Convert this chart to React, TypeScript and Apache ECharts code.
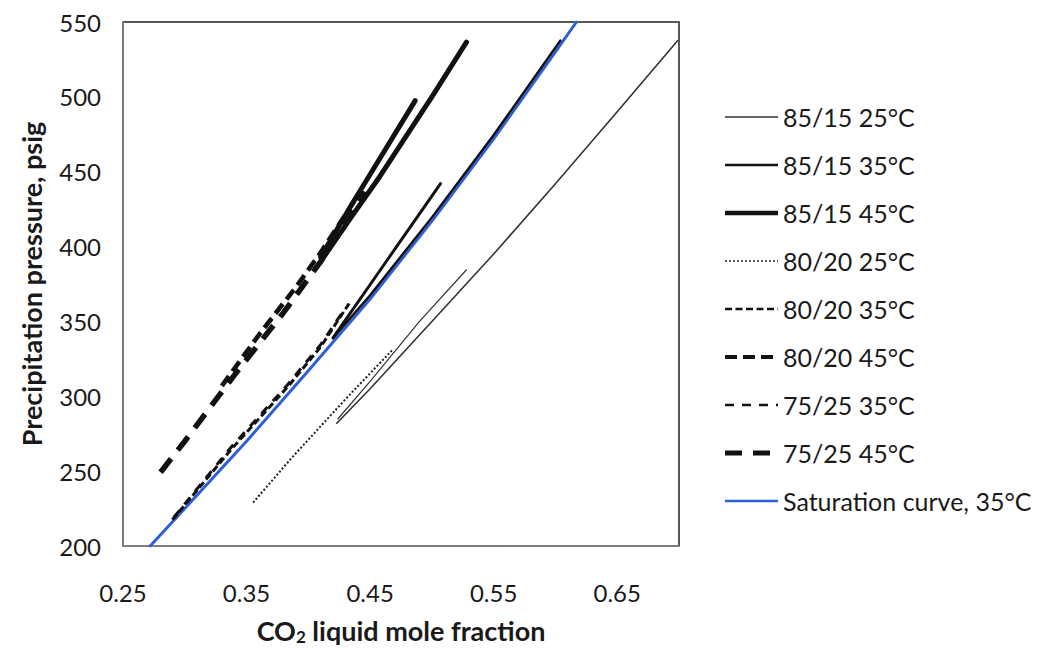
import React, { useEffect, useRef } from "react";
import * as echarts from "echarts";

// ---- Data (x = CO2 liquid mole fraction, y = precipitation pressure, psig) ----
const seriesNames = [
  "85/15 25°C",
  "85/15 35°C",
  "85/15 45°C",
  "80/20 25°C",
  "80/20 35°C",
  "80/20 45°C",
  "75/25 35°C",
  "75/25 45°C",
  "Saturation curve, 35°C",
];

const xMin = 0.25;
const xMax = 0.7;
const yMin = 200;
const yMax = 550;
const yStep = 50;
const xStep = 0.05;

const saturation35: number[][] = [
  [0.272, 200], [0.3, 225], [0.35, 270], [0.4, 317], [0.45, 365],
  [0.5, 417], [0.55, 472], [0.6, 530], [0.617, 550],
];

const p8515_25a: number[][] = [[0.424, 285], [0.45, 310], [0.49, 350], [0.528, 384.5]];
const p8515_25b: number[][] = [
  [0.423, 282], [0.45, 305], [0.5, 350], [0.55, 395], [0.6, 442], [0.65, 490], [0.699, 537.6],
];

const p8515_35a: number[][] = [[0.42, 339], [0.4636, 390.7], [0.507, 442]];
const p8515_35b: number[][] = [[0.42, 339], [0.45, 367.5], [0.5, 419.5], [0.55, 474.5], [0.604, 537.6]];

const p8515_45a: number[][] = [[0.41, 393], [0.435, 428], [0.458, 459], [0.4865, 497.5]];
const p8515_45b: number[][] = [[0.41, 390], [0.435, 420], [0.458, 447], [0.5, 500], [0.528, 536.5]];

const p8020_25: number[][] = [[0.3553, 229], [0.387, 259.3], [0.43, 298], [0.4676, 330.6]];
const p8020_35: number[][] = [[0.29, 217.5], [0.337, 264], [0.383, 306], [0.41, 333], [0.433, 362]];
const p8020_45: number[][] = [[0.33, 307], [0.36, 341], [0.39, 373], [0.41, 396], [0.44, 434]];
const p7525_35: number[][] = [[0.291, 219], [0.337, 265.5], [0.383, 307.5], [0.41, 334.5], [0.43, 359]];
const p7525_45: number[][] = [[0.2804, 249.3], [0.3, 270], [0.34, 314], [0.38, 356], [0.41, 390], [0.445, 437]];

// line styles (legend + series)
const styleColors = ["#333", "#111", "#111", "#222", "#111", "#111", "#111", "#111", "#2f5fd6"];
const styleWidths = [1.3, 2.6, 4.6, 1.6, 2.6, 4.2, 2.6, 5, 2.6];
const styleDashes: any[] = [null, null, null, [2, 2], [7, 3.5], [12, 6], [9, 8], [17, 11], null];

const FONT = "Lato, 'Open Sans', sans-serif";
const INK = "#1a1a1a";

function line(idx: number, data: number[][], widthOverride?: number) {
  const dash = styleDashes[idx];
  return {
    type: "line",
    name: seriesNames[idx],
    data,
    symbol: "none",
    smooth: false,
    silent: true,
    lineStyle: {
      color: styleColors[idx],
      width: widthOverride ?? styleWidths[idx],
      type: dash ? dash : "solid",
      cap: dash ? "butt" : "round",
      join: "round",
    },
    itemStyle: { color: styleColors[idx] },
  };
}

export default function App() {
  const ref = useRef<HTMLDivElement>(null);

  useEffect(() => {
    if (!ref.current) return;
    const chart = echarts.init(ref.current, undefined, { renderer: "svg" });

    const legendX = 725;
    const legendTop = 117;
    const legendStep = 48;
    const legendGraphics: any[] = [];
    seriesNames.forEach((name, i) => {
      const y = legendTop + legendStep * i;
      const dash = styleDashes[i];
      legendGraphics.push({
        type: "line",
        silent: true,
        shape: { x1: legendX, y1: y, x2: legendX + 53, y2: y },
        style: {
          stroke: styleColors[i],
          lineWidth: styleWidths[i],
          lineDash: dash || undefined,
          lineCap: "butt",
        },
      });
      legendGraphics.push({
        type: "text",
        silent: true,
        x: legendX + 58,
        y,
        style: {
          text: name,
          fontFamily: FONT,
          fontSize: 25,
          fill: INK,
          verticalAlign: "middle",
          align: "left",
        },
      });
    });

    chart.setOption({
      animation: false,
      backgroundColor: "#ffffff",
      textStyle: { fontFamily: FONT },
      grid: {
        left: 123,
        top: 22,
        width: 556,
        height: 524,
        show: true,
        borderColor: "#222",
        borderWidth: 1.5,
        backgroundColor: "transparent",
      },
      legend: { show: false, data: seriesNames },
      graphic: legendGraphics,
      xAxis: {
        type: "value",
        min: xMin,
        max: xMax,
        interval: xStep,
        axisLine: { show: true, lineStyle: { color: "#8a8a8a", width: 1.5 } },
        axisTick: { show: false },
        splitLine: { show: false },
        axisLabel: {
          margin: 34,
          fontSize: 24,
          fontFamily: FONT,
          color: INK,
          showMaxLabel: false,
          formatter: (v: number) => (Math.round(v * 100) % 10 === 5 ? v.toFixed(2) : ""),
        },
        name: "CO{sub|2} liquid mole fraction",
        nameLocation: "middle",
        nameGap: 70,
        nameTextStyle: {
          fontFamily: FONT,
          fontSize: 27,
          fontWeight: "bold",
          color: INK,
          rich: {
            sub: { fontFamily: FONT, fontSize: 17, fontWeight: "bold", color: INK, verticalAlign: "bottom", padding: [12, 0, 0, 0] },
          },
        },
      },
      yAxis: {
        type: "value",
        min: yMin,
        max: yMax,
        interval: yStep,
        axisLine: { show: true, lineStyle: { color: "#8a8a8a", width: 1.5 } },
        axisTick: { show: false },
        splitLine: { show: false },
        axisLabel: { margin: 22, fontSize: 24, fontFamily: FONT, color: INK },
        name: "Precipitation pressure, psig",
        nameLocation: "middle",
        nameGap: 78,
        nameTextStyle: { fontFamily: FONT, fontSize: 27, fontWeight: "bold", color: INK },
      },
      series: [
        line(8, saturation35, 3),
        line(0, p8515_25a, 1.2),
        line(0, p8515_25b, 1.6),
        line(1, p8515_35a, 3),
        line(1, p8515_35b, 2.4),
        line(2, p8515_45a, 5),
        line(2, p8515_45b, 5),
        line(3, p8020_25, 2),
        line(4, p8020_35, 3),
        line(5, p8020_45, 4.6),
        line(6, p7525_35, 3),
        line(7, p7525_45, 5.5),
      ],
    });
    return () => chart.dispose();
  }, []);

  return <div ref={ref} style={{ width: 1044, height: 658, margin: -8 }} />;
}
